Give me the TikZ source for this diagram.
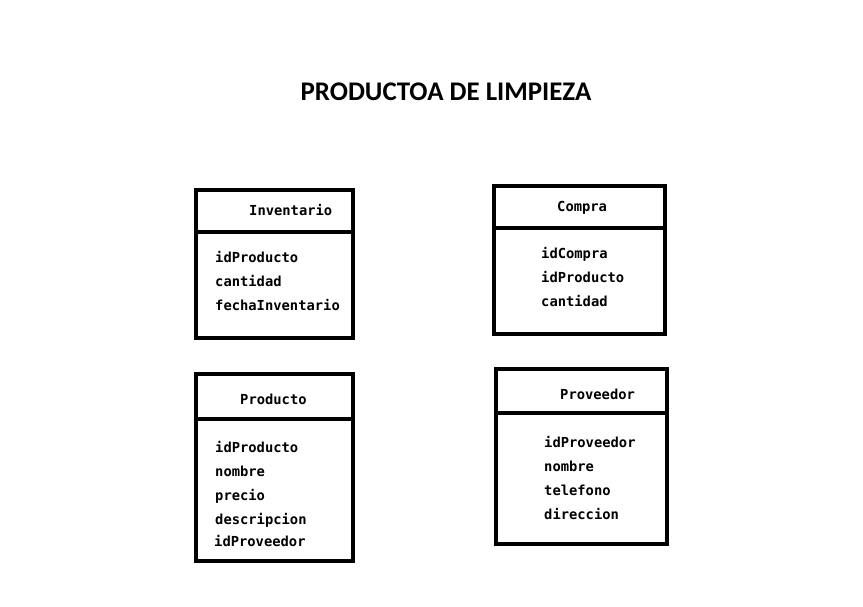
\documentclass[tikz,border=0pt]{standalone}
\usepackage{fontspec}
\setmainfont{Carlito}
\newfontfamily\monof{DejaVu Sans Mono}
\begin{document}
\begin{tikzpicture}[x=1pt,y=-1pt,
  tbl/.style={draw=black,line width=4pt,fill=white,inner sep=0pt,outer sep=0pt,anchor=north west},
  sep/.style={draw=black,line width=4pt},
  hdr/.style={font=\monof\bfseries\fontsize{13.8}{16}\selectfont,inner sep=0pt,anchor=base west},
  fld/.style={font=\monof\bfseries\fontsize{13.8}{16}\selectfont,inner sep=0pt,anchor=base west},
  ttl/.style={font=\bfseries\fontsize{26.9}{30}\selectfont,inner sep=0pt}]
\useasboundingbox (0,0) rectangle (863,606);
\fill[white] (0,0) rectangle (863,606);
\node[ttl] (title) at (446,92) {PRODUCTOA DE LIMPIEZA};
% Inventario
\node[tbl,minimum width=157pt,minimum height=148pt] (inv) at (196,190) {};
\coordinate (invL) at (196,232); \coordinate (invR) at (353,232);
\draw[sep] (invL) -- (invR);
\node[hdr] (invh) at (249,215) {Inventario};
\node[fld] (inv1) at (215,262) {idProducto};
\node[fld] (inv2) at (215,286) {cantidad};
\node[fld] (inv3) at (215,310) {fechaInventario};
% Compra
\node[tbl,minimum width=171pt,minimum height=148pt] (com) at (494,186) {};
\coordinate (comL) at (494,228); \coordinate (comR) at (665,228);
\draw[sep] (comL) -- (comR);
\node[hdr] (comh) at (557,211) {Compra};
\node[fld] (com1) at (541,258) {idCompra};
\node[fld] (com2) at (541,282) {idProducto};
\node[fld] (com3) at (541,306) {cantidad};
% Producto
\node[tbl,minimum width=157pt,minimum height=187pt] (pro) at (196,374) {};
\coordinate (proL) at (196,419); \coordinate (proR) at (353,419);
\draw[sep] (proL) -- (proR);
\node[hdr] (proh) at (240,404) {Producto};
\node[fld] (pro1) at (215,452) {idProducto};
\node[fld] (pro2) at (215,476) {nombre};
\node[fld] (pro3) at (215,500) {precio};
\node[fld] (pro4) at (215,524) {descripcion};
\node[fld] (pro5) at (214,546) {idProveedor};
% Proveedor
\node[tbl,minimum width=171pt,minimum height=175pt] (prv) at (496,369) {};
\coordinate (prvL) at (496,413); \coordinate (prvR) at (667,413);
\draw[sep] (prvL) -- (prvR);
\node[hdr] (prvh) at (560,399) {Proveedor};
\node[fld] (prv1) at (544,447) {idProveedor};
\node[fld] (prv2) at (544,471) {nombre};
\node[fld] (prv3) at (544,495) {telefono};
\node[fld] (prv4) at (544,519) {direccion};
\end{tikzpicture}
\end{document}
